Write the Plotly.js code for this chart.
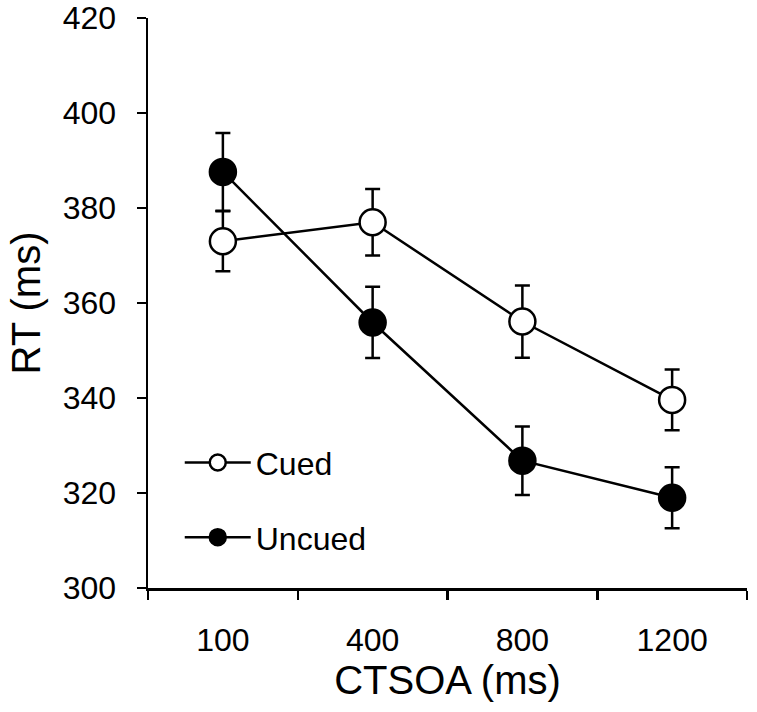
<!DOCTYPE html>
<html>
<head>
<meta charset="utf-8">
<script src="https://cdn.plot.ly/plotly-3.0.1.min.js"></script>
<style>html,body{margin:0;padding:0;background:#fff;}#chart{width:757px;height:712px;}</style>
</head>
<body>
<div id="chart"></div>
<script>
const categories = ["100", "400", "800", "1200"];
const cuedRT = [373.0, 377.0, 356.1, 339.6];
const cuedErr = [6.3, 7.0, 7.6, 6.4];
const uncuedRT = [387.6, 355.9, 326.8, 319.0];
const uncuedErr = [8.2, 7.5, 7.2, 6.4];
const yTicks = [300, 320, 340, 360, 380, 400, 420];

const FONT = "Arial, 'Liberation Sans', sans-serif";

function trace(name, y, err, fill, group) {
  return {
    type: "scatter",
    mode: "lines+markers",
    name: name,
    legendgroup: group,
    x: categories,
    y: y,
    line: {color: "#000", width: 2.5},
    marker: {size: 26, color: fill, line: {color: "#000", width: 2.5}},
    error_y: {type: "data", array: err, visible: true, color: "#000", thickness: 2.5, width: 7.5}
  };
}

const data = [
  trace("Cued", cuedRT, cuedErr, "#fff", "a"),
  trace("Uncued", uncuedRT, uncuedErr, "#000", "b")
];

const layout = {
  width: 757, height: 712,
  margin: {l: 148, r: 10, t: 18, b: 124},
  paper_bgcolor: "#fff", plot_bgcolor: "#fff",
  font: {family: FONT, color: "#000", size: 32},
  showlegend: true,
  legend: {
    x: 0.053, y: 0.268, xanchor: "left", yanchor: "top",
    bgcolor: "rgba(0,0,0,0)", borderwidth: 0,
    font: {family: FONT, size: 32, color: "#000"},
    traceorder: "grouped", tracegroupgap: 30, itemwidth: 66
  },
  xaxis: {
    type: "category", range: [-0.5, 3.5],
    showline: true, linecolor: "#000", linewidth: 2.5,
    ticks: "outside", tickson: "boundaries", ticklen: 9, tickwidth: 2.5, tickcolor: "#000",
    showgrid: false, zeroline: false,
    tickfont: {family: FONT, size: 32, color: "#000"},
    ticklabelstandoff: 22,
    title: {text: "CTSOA (ms)", font: {family: FONT, size: 40, color: "#000"}, standoff: 6}
  },
  yaxis: {
    range: [300, 420], tickvals: yTicks, ticktext: yTicks.map(String),
    showline: true, linecolor: "#000", linewidth: 2.5,
    ticks: "outside", ticklen: 9, tickwidth: 2.5, tickcolor: "#000",
    showgrid: false, zeroline: false,
    tickfont: {family: FONT, size: 32, color: "#000"},
    ticklabelstandoff: 14,
    title: {text: "RT (ms)", font: {family: FONT, size: 40, color: "#000"}, standoff: 10}
  }
};

Plotly.newPlot("chart", data, layout, {displayModeBar: false, staticPlot: true});
</script>
</body>
</html>
